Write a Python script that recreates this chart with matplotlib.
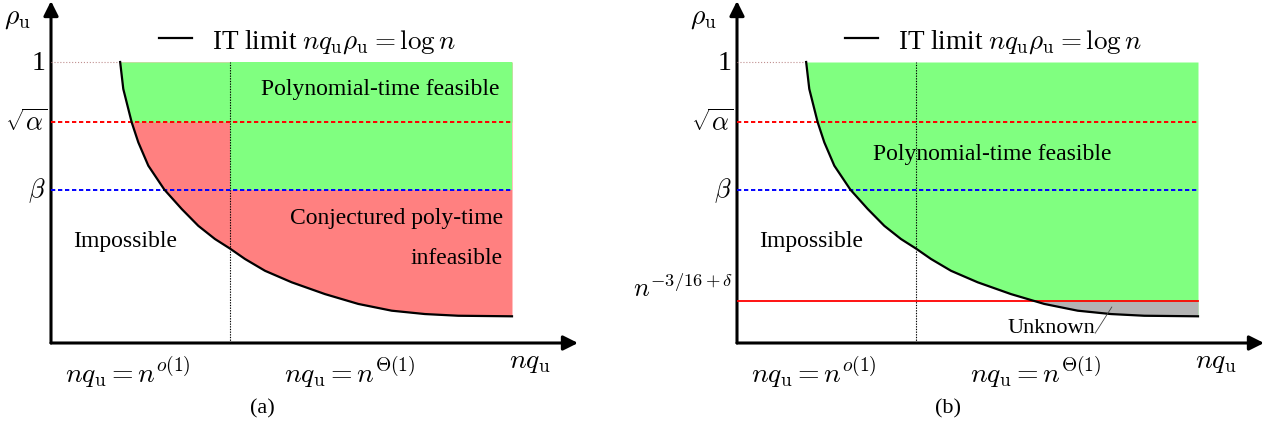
import numpy as np
import matplotlib
matplotlib.use("Agg")
import matplotlib.pyplot as plt
from matplotlib.lines import Line2D

plt.rcParams['font.family'] = ['Liberation Serif', 'DejaVu Serif']
plt.rcParams['mathtext.fontset'] = 'cm'

# IT limit curve (x: nq_u in arbitrary units, y: rho_u)
curve_x = [1.50, 1.568, 1.677, 1.751, 1.894, 2.111, 2.458, 2.835, 3.195, 3.557, 3.883,
           4.208, 4.642, 5.221, 5.944, 6.666, 7.390, 8.113, 8.835, 10.0]
curve_y = [1.0, 0.904, 0.833, 0.785, 0.714, 0.631, 0.546, 0.477, 0.417, 0.370, 0.336,
           0.299, 0.257, 0.216, 0.174, 0.139, 0.115, 0.103, 0.097, 0.095]

rho_max = 1.0
sqrt_alpha = 0.786
beta = 0.546
lower_b = 0.149        # n^{-3/16+delta}, panel (b)
x_split = 3.88         # boundary n^{o(1)} / n^{Theta(1)}
x_end = 10.0

green = '#80ff80'
red = '#ff8080'
gray = '#b3b3b3'

cx = np.array(curve_x)
cy = np.array(curve_y)

fig = plt.figure(figsize=(12.69, 4.27), dpi=100)
W, H = 1269, 427
px_x = 46.1   # pixels per x unit
px_y = 281.0  # pixels per y unit


def make_axes(left_px):
    ax = fig.add_axes([left_px / W, (H - 344) / H, 527 / W, 342 / H])
    ax.set_xlim(0, 527 / px_x)
    ax.set_ylim(0, 342 / px_y)
    ax.axis('off')
    return ax


def common(ax, tag):
    xmax = 527 / px_x
    ymax = 342 / px_y
    # axes arrows
    ax.annotate('', xy=(xmax, 0), xytext=(0, 0), annotation_clip=False,
                arrowprops=dict(arrowstyle='-|>', lw=2.2, color='black',
                                mutation_scale=22, shrinkA=0, shrinkB=0))
    ax.annotate('', xy=(0, ymax), xytext=(0, 0), annotation_clip=False,
                arrowprops=dict(arrowstyle='-|>', lw=2.2, color='black',
                                mutation_scale=22, shrinkA=0, shrinkB=0))
    # dotted / dashed guide lines
    ax.plot([0, cx[0]], [rho_max, rho_max], color='#c09090', lw=0.8, ls=':', zorder=3)
    ax.plot([x_split, x_split], [0, rho_max], color='black', lw=0.8, ls=(0, (1.2, 1.2)), zorder=4)
    ax.plot([0, x_end], [sqrt_alpha, sqrt_alpha], color='red', lw=1.4, ls=(0, (2.2, 1.4)), zorder=4)
    ax.plot([0, x_end], [beta, beta], color='blue', lw=1.4, ls=(0, (2.2, 1.4)), zorder=4)
    # IT limit curve
    ax.plot(cx, cy, color='black', lw=1.6, zorder=5, solid_joinstyle='round')
    h = Line2D([], [], color='black', lw=1.6)
    ax.legend([h], [r'IT limit $nq_{\mathrm{u}}\rho_{\mathrm{u}} = \log n$'],
              loc='center', bbox_to_anchor=(5.56, 1.075), bbox_transform=ax.transData,
              frameon=False, fontsize=19.5, handlelength=1.22, handletextpad=0.74,
              borderaxespad=0, borderpad=0)
    # tick labels and axis labels
    ax.text(-0.12, rho_max, '1', ha='right', va='center', fontsize=20)
    ax.text(-0.08, sqrt_alpha, r'$\sqrt{\alpha}$', ha='right', va='center', fontsize=19)
    ax.text(-0.12, beta, r'$\beta$', ha='right', va='center', fontsize=19)
    ax.text(-0.74, 1.16, r'$\rho_{\mathrm{u}}$', ha='center', va='center', fontsize=20)
    ax.text(1.67, -0.10, r'$nq_{\mathrm{u}} = n^{o(1)}$', ha='center', va='center', fontsize=20)
    ax.text(6.49, -0.10, r'$nq_{\mathrm{u}} = n^{\Theta(1)}$', ha='center', va='center', fontsize=20)
    ax.text(10.39, -0.065, r'$nq_{\mathrm{u}}$', ha='center', va='center', fontsize=20)
    ax.text(1.6, 0.365, 'Impossible', ha='center', va='center', fontsize=17)
    ax.text(4.58, -0.232, tag, ha='center', va='center', fontsize=16)


# ---------------- panel (a) ----------------
ax1 = make_axes(51)
ax1.fill_between(cx, cy, rho_max, color=red, lw=0, zorder=1)
ax1.fill_between(cx, np.maximum(cy, sqrt_alpha), rho_max, color=green, lw=0, zorder=2)
ax1.fill_between([x_split, x_end], beta, rho_max, color=green, lw=0, zorder=2)
common(ax1, '(a)')
ax1.text(7.14, 0.904, 'Polynomial-time feasible', ha='center', va='center', fontsize=17)
ax1.text(9.8, 0.448, 'Conjectured poly-time', ha='right', va='center', fontsize=17)
ax1.text(9.8, 0.306, 'infeasible', ha='right', va='center', fontsize=17)

# ---------------- panel (b) ----------------
ax2 = make_axes(737)
ax2.fill_between(cx, cy, rho_max, color=green, lw=0, zorder=1)
ax2.fill_between(cx, cy, lower_b, where=cy <= lower_b, interpolate=True, color=gray, lw=0, zorder=2)
common(ax2, '(b)')
ax2.plot([0, x_end], [lower_b, lower_b], color='red', lw=1.3, zorder=4)
ax2.text(5.53, 0.673, 'Polynomial-time feasible', ha='center', va='center', fontsize=17)
ax2.text(-0.08, 0.20, r'$n^{-3/16+\delta}$', ha='right', va='center', fontsize=19)
ax2.text(7.77, 0.055, 'Unknown', ha='right', va='center', fontsize=16)
ax2.plot([7.77, 8.13], [0.035, 0.128], color='#444444', lw=0.6, zorder=6)

fig.savefig('out.png', dpi=100)
